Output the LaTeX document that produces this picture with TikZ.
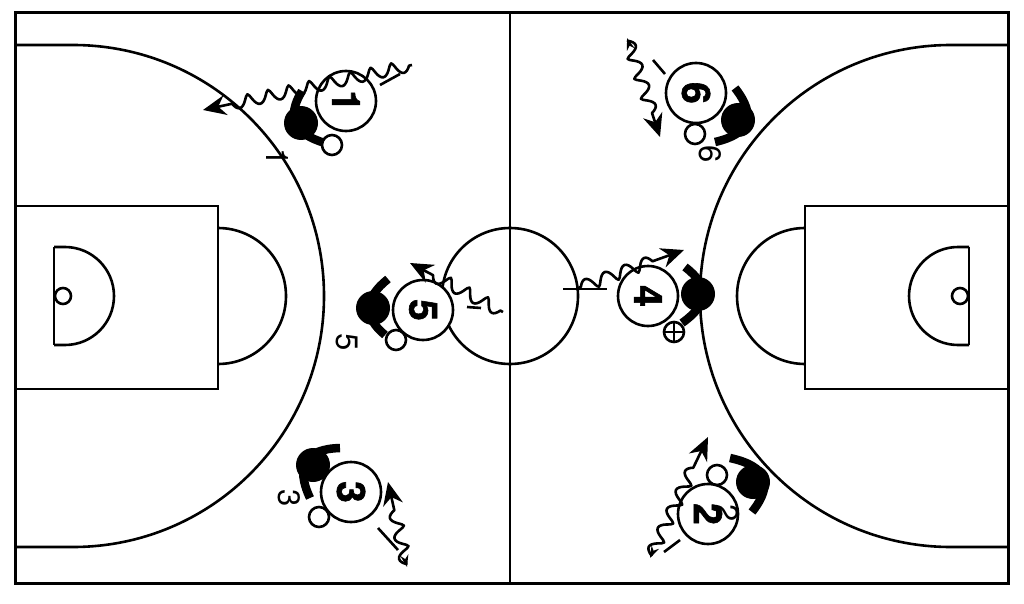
\documentclass[tikz,border=0pt]{standalone}
\usepackage{fontspec}
\setmainfont[BoldFeatures={FakeBold=1.5}]{TeX Gyre Heros}
\usetikzlibrary{arrows.meta,decorations.pathmorphing}
\tikzset{
  court/.style={draw=black,line width=2.6pt},
  player/.style={shape=circle,draw=black,fill=white,line width=2.6pt,minimum size=60pt,inner sep=0pt,rotate=-90,font=\fontsize{39}{39}\selectfont\bfseries},
  ball/.style={shape=circle,draw=black,fill=white,line width=2.6pt,minimum size=20pt,inner sep=0pt},
  blob/.style={shape=circle,fill=black,minimum size=34pt,inner sep=0pt},
  arm/.style={draw=black,line width=8.5pt},
  numlabel/.style={rotate=-90,inner sep=0pt,font=\fontsize{31}{31}\selectfont},
  wiggle/.style={draw=black,line width=2.6pt,line join=round,decorate,decoration={coil,aspect=0.22,segment length=21pt,amplitude=6pt,pre=lineto,pre length=3pt,post=lineto,post length=18pt}},
  tail/.style={draw=black,line width=2.6pt},
}
\begin{document}
\begin{tikzpicture}[x=1pt,y=-1pt,>={Stealth[length=23pt,width=20pt]},smallhead/.style={{Stealth[length=12pt,width=8pt]}-{Stealth[length=23pt,width=20pt]}}]
                \useasboundingbox(0,0)rectangle(1024,604);
                % court
                \draw[court,line width=3pt](15,13)rectangle(1008,583);
                \draw[court](510,13)--(510,583);
                \draw[court](510,296)circle[radius=68pt];
                \draw[court](15,45)--(73,45)arc[start angle=90,end angle=-90,radius=251pt]--(15,547);
                \draw[court](1008,45)--(951,45)arc[start angle=90,end angle=270,radius=251pt]--(1008,547);
                \draw[court](15,206)rectangle(218,389);
                \draw[court](805,206)rectangle(1008,389);
                \draw[court](218,228)arc[start angle=90,end angle=-90,radius=68pt];
                \draw[court](805,228)arc[start angle=90,end angle=270,radius=68pt];
                \draw[court](54,247)--(54,345);
                \draw[court](54,247)--(65,247)arc[start angle=90,end angle=-90,radius=49pt]--(54,345);
                \draw[court](969,247)--(969,345);
                \draw[court](969,247)--(958,247)arc[start angle=90,end angle=270,radius=49pt]--(969,345);
                \draw[court,fill=white](63,296)circle[radius=8pt];
                \draw[court,fill=white](960,296)circle[radius=8pt];
                % defenders
                \node[blob](d1)at(301,123){};
                \node[blob](d2)at(753,482){};
                \node[blob](d3)at(313,465){};
                \node[blob](d4)at(698,294){};
                \node[blob](d5)at(373,308){};
                \node[blob](d6)at(738,120){};
                \draw[arm](302,91).. controls (286,117) and (294,134) .. (325,143);
                \draw[arm](730,458).. controls (767,466) and (774,484) .. (752,512);
                \draw[arm](340,448).. controls (305,449) and (295,466) .. (310,498);
                \draw[arm](685,267).. controls (710,286) and (709,304) .. (682,323);
                \draw[arm](388,279).. controls (364,298) and (363,317) .. (385,335);
                \draw[arm](735,88).. controls (757,116) and (750,134) .. (715,142);
                % balls
                \node[ball](b1)at(332,145){};
                \node[ball](b2)at(717,475){};
                \node[ball](b3)at(319,517){};
                \node[ball](b4)at(674,332){};
                \node[ball](b5)at(396,340){};
                \node[ball](b6)at(695,134){};
                \draw[line width=1.5pt](b4.north)--(b4.south)(b4.west)--(b4.east);
                % attackers
                \node[player](p1)at(346,101){1};
                \node[player](p2)at(708,514){2};
                \node[player](p3)at(351,492){3};
                \node[player](p4)at(648,296){4};
                \node[player](p5)at(423,310){5};
                \node[player](p6)at(696,93){6};
                % small numbers
                \node[numlabel](n1)at(277,157){1};
                \node[numlabel](n2)at(727,513){2};
                \node[numlabel](n3)at(289,498){3};
                \node[numlabel](n5)at(347,342){5};
                \node[numlabel](n6)at(710,154){6};
                % dribbles
                \coordinate(s1)at(412,65);\coordinate(e1)at(203,110);\coordinate(t1)at(380,85);\coordinate(u1)at(400,74);
                \coordinate(s2)at(650,558);\coordinate(e2)at(708,437);\coordinate(t2)at(680,540);\coordinate(u2)at(664,552);
                \coordinate(s3)at(407,567);\coordinate(e3)at(388,482);\coordinate(t3)at(378,528);\coordinate(u3)at(398,550);
                \coordinate(s4)at(578,288);\coordinate(e4)at(684,250);\coordinate(t4)at(563,289);\coordinate(u4)at(607,289);
                \coordinate(s5)at(503,312);\coordinate(e5)at(410,263);\coordinate(t5)at(467,307);\coordinate(u5)at(481,308);
                \coordinate(s6)at(627,38);\coordinate(e6)at(660,137);\coordinate(t6)at(665,74);\coordinate(u6)at(653,60);
                \path[tail](t1)--(u1);
                \path[tail](t2)--(u2);
                \path[tail](t3)--(u3);
                \path[tail](t4)--(u4);
                \path[tail](t5)--(u5);
                \path[tail](t6)--(u6);
                \draw[wiggle,->](s1)--(e1);
                \draw[wiggle,smallhead](s2)--(e2);
                \draw[wiggle,smallhead](s3)--(e3);
                \draw[wiggle,->](s4)--(e4);
                \draw[wiggle,->](s5)--(e5);
                \draw[wiggle,smallhead](s6)--(e6);
            \end{tikzpicture}
\end{document}
